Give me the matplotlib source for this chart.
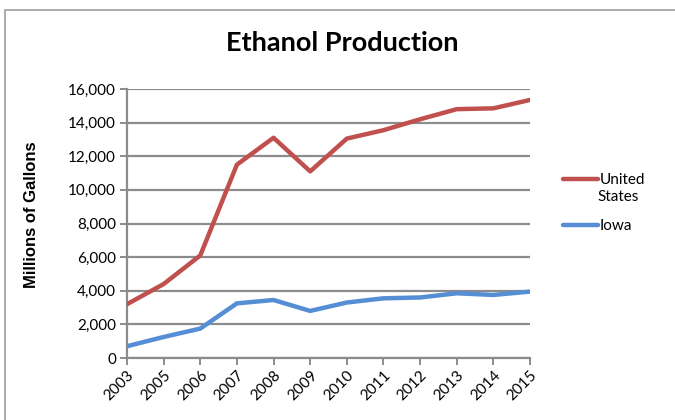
import matplotlib
matplotlib.use("Agg")
import matplotlib.pyplot as plt
from matplotlib.ticker import FuncFormatter, MultipleLocator
from matplotlib.patches import Rectangle
from matplotlib.lines import Line2D

years = ["2003", "2005", "2006", "2007", "2008", "2009", "2010", "2011", "2012", "2013", "2014", "2015"]
us = [3200, 4400, 6100, 11500, 13100, 11100, 13050, 13550, 14200, 14800, 14850, 15350]
iowa = [700, 1250, 1750, 3250, 3450, 2800, 3300, 3550, 3600, 3850, 3750, 3950]

red = "#C0504D"
blue = "#558ED5"
grid = "#8C8C8C"

fig = plt.figure(figsize=(6.75, 4.2), dpi=100)
fig.patches.append(Rectangle((4.5 / 675, -0.1), 1.2, 1 - 10 / 420 + 0.1, transform=fig.transFigure,
                             fill=False, edgecolor="#A6A6A6", linewidth=1.3))

ax = fig.add_axes([127 / 675, 1 - 358 / 420, (530 - 127) / 675, (358 - 89) / 420])
x = list(range(len(years)))
ax.plot(x, us, color=red, linewidth=3.2, solid_capstyle="round", solid_joinstyle="round", zorder=3)
ax.plot(x, iowa, color=blue, linewidth=3.2, solid_capstyle="round", solid_joinstyle="round", zorder=3)

ax.set_xlim(0, len(years) - 1)
ax.set_ylim(0, 16000)
ax.yaxis.set_major_locator(MultipleLocator(2000))
ax.yaxis.set_major_formatter(FuncFormatter(lambda v, p: f"{int(v):,}"))
ax.grid(axis="y", color=grid, linewidth=1.6, zorder=1)
ax.set_axisbelow(True)

for s in ["top", "right"]:
    ax.spines[s].set_visible(False)
ax.spines["left"].set_color(grid)
ax.spines["left"].set_linewidth(1.6)
ax.spines["bottom"].set_color(grid)
ax.spines["bottom"].set_linewidth(1.6)

ax.set_xticks(x)
ax.set_xticklabels(years, rotation=45, ha="right", va="top", rotation_mode="anchor",
                   fontfamily="Lato", fontsize=11)
ax.tick_params(axis="x", length=5, width=1.4, color=grid, pad=2)
ax.tick_params(axis="y", length=5, width=1.4, color=grid, pad=3, labelsize=11)
for t in ax.get_yticklabels():
    t.set_fontfamily("Lato")

ax.set_ylabel("Millions of Gallons", fontfamily="Liberation Sans", fontweight="bold", fontsize=12)
ax.yaxis.set_label_coords((39 - 127) / 403, (358 - 215) / 269)

fig.text(342 / 675, 1 - 43 / 420, "Ethanol Production", ha="center", va="center",
         fontfamily="Lato", fontweight="bold", fontsize=19.5)

handles = [Line2D([0], [0], color=red, linewidth=3.2, solid_capstyle="round"),
           Line2D([0], [0], color=blue, linewidth=3.2, solid_capstyle="round")]
leg = fig.legend(handles, ["United", "Iowa"], loc="upper left",
                 bbox_to_anchor=(557 / 675, 1 - 167 / 420), frameon=False,
                 prop={"family": "Lato", "size": 11}, handlelength=2.3, handletextpad=0.1,
                 labelspacing=2.1, borderaxespad=0)
fig.text(597 / 675, 1 - 197 / 420, "States", ha="left", va="center", fontfamily="Lato", fontsize=11)

fig.savefig("out.png", dpi=100)
